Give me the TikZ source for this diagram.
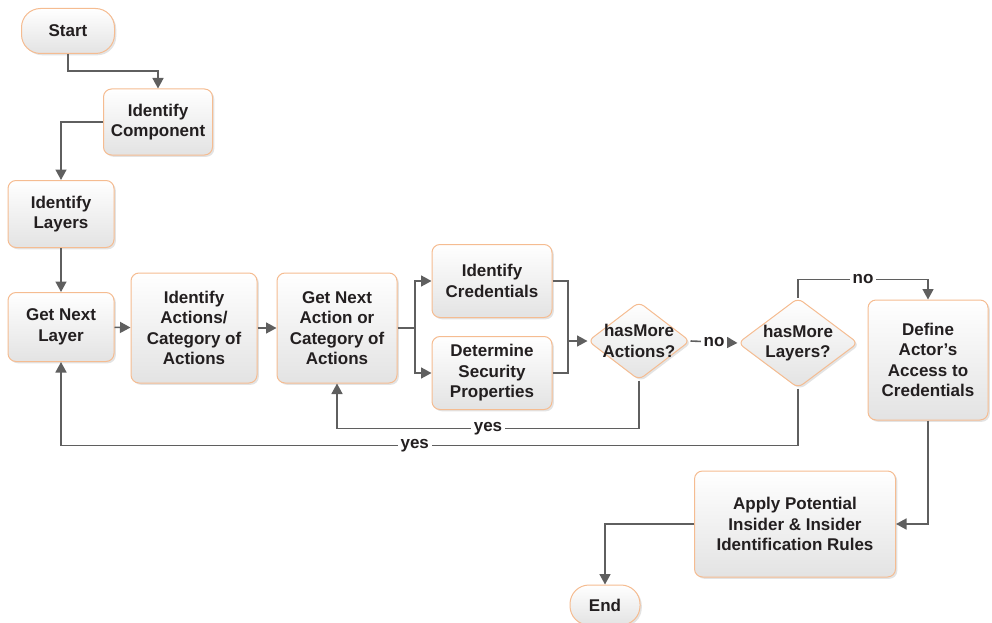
\documentclass[tikz,border=0pt]{standalone}
\usepackage{fontspec}
\setmainfont{Liberation Sans}
\usetikzlibrary{shapes.geometric,shadows,arrows.meta}
\definecolor{bord}{RGB}{245,188,145}
\definecolor{txt}{RGB}{35,31,32}
\definecolor{ln}{RGB}{95,95,95}
\begin{document}
\begin{tikzpicture}[x=1pt,y=-1pt,
 fnt/.style={font=\fontsize{17}{20.5}\selectfont\bfseries, text=txt, align=center},
 box/.style={fnt, draw=bord, line width=1pt, rounded corners=8pt, top color=white, bottom color=black!11,
   drop shadow={opacity=0.22,shadow xshift=1.8pt,shadow yshift=-1.8pt}, inner sep=0pt},
 term/.style={box, rounded corners=19pt},
 dia/.style={box, shape=diamond, rounded corners=6pt},
 conn/.style={draw=ln, line width=1.6pt, -{Triangle[length=10.5pt,width=11pt]}},
 plain/.style={draw=ln, line width=1.6pt},
 lab/.style={fnt, fill=white, inner sep=3pt}
]
\useasboundingbox (0,0) rectangle (992,623);
\node[term, minimum width=93pt, minimum height=45pt] (start) at (68,31) {Start};
\node[box, minimum width=109pt, minimum height=66pt] (comp) at (158,122) {Identify\\Component};
\node[box, minimum width=106pt, minimum height=67pt] (layers) at (61,214) {Identify\\Layers};
\node[box, minimum width=106pt, minimum height=69pt] (next) at (61,327) {Get Next\\Layer};
\node[box, minimum width=126pt, minimum height=110pt] (acts) at (194,328) {Identify\\Actions/\\Category of\\Actions};
\node[box, minimum width=120pt, minimum height=110pt] (nact) at (337,328) {Get Next\\Action or\\Category of\\Actions};
\node[box, minimum width=120pt, minimum height=73pt] (cred) at (492,281) {Identify\\Credentials};
\node[box, minimum width=120pt, minimum height=73pt] (sec) at (492,373) {Determine\\Security\\Properties};
\node[dia, minimum width=102pt, minimum height=78pt,
  label={[fnt]center:hasMore\\Actions?}] (hma) at (639,341) {};
\node[dia, minimum width=120pt, minimum height=90pt,
  label={[fnt]center:hasMore\\Layers?}] (hml) at (798,343) {};
\node[box, minimum width=120pt, minimum height=120pt] (def) at (928,360) {Define\\Actor’s\\Access to\\Credentials};
\node[box, minimum width=201pt, minimum height=106pt] (apply) at (795,524) {Apply Potential\\Insider \& Insider\\Identification Rules};
\node[term, minimum width=70pt, minimum height=40pt] (end) at (605,605) {End};

\draw[conn] (start.south) -- ++(0,17) -| (comp.north);
\draw[conn] (comp.west) -| (layers.north);
\draw[conn] (layers) -- (next);
\draw[conn] (next) -- (acts);
\draw[conn] (acts) -- (nact);
\coordinate (sp) at (415,328);
\draw[plain] (nact.east) -- (sp);
\draw[conn] (sp) |- (cred.west);
\draw[conn] (sp) |- (sec.west);
\coordinate (jn) at (568,341);
\draw[plain] (cred.east) -| (jn);
\draw[plain] (sec.east) -| (jn);
\draw[conn] (jn) -- (hma.west);
\draw[conn] (hma.east) -- node[lab]{no} (hml.west);
\draw[conn] (hma.south) -- ++(0,48) -| node[lab,pos=0.25]{yes} (nact.south);
\draw[conn] (hml.south) -- ++(0,57) -| node[lab,pos=0.26]{yes} (next.south);
\draw[conn] (hml.north) -- ++(0,-18) -| node[lab,pos=0.25]{no} (def.north);
\draw[conn] (def.south) |- (apply.east);
\draw[conn] (apply.west) -| (end.north);
\end{tikzpicture}
\end{document}
